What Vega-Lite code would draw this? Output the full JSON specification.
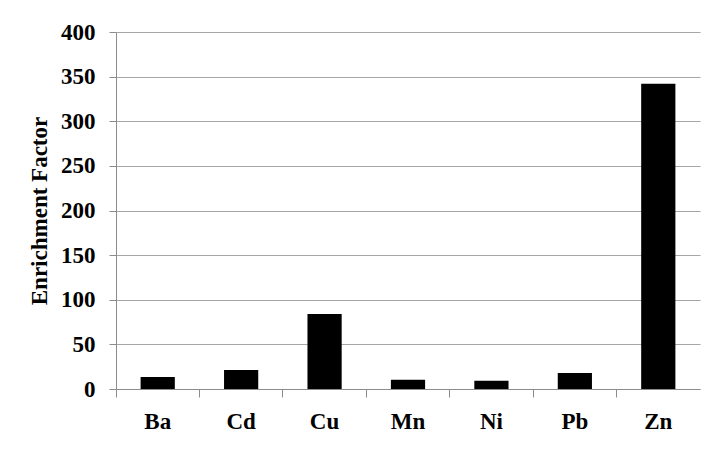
{
  "$schema": "https://vega.github.io/schema/vega-lite/v6.json",
  "width": 584,
  "height": 357,
  "autosize": "none",
  "padding": {"left": 116, "top": 32, "right": 20, "bottom": 63},
  "background": "white",
  "data": {
    "values": [
      {"element": "Ba", "ef": 13.5},
      {"element": "Cd", "ef": 21.3},
      {"element": "Cu", "ef": 84},
      {"element": "Mn", "ef": 10.4},
      {"element": "Ni", "ef": 9.3},
      {"element": "Pb", "ef": 17.9},
      {"element": "Zn", "ef": 342}
    ]
  },
  "config": {
    "view": {"stroke": null},
    "font": "Liberation Serif"
  },
  "mark": {"type": "bar", "color": "black", "width": {"band": 0.41}},
  "encoding": {
    "x": {
      "field": "element",
      "type": "nominal",
      "sort": null,
      "scale": {"paddingInner": 0, "paddingOuter": 0},
      "axis": {
        "title": null,
        "labelAngle": 0,
        "labelFont": "Liberation Serif",
        "labelFontWeight": "bold",
        "labelFontSize": 23,
        "labelColor": "black",
        "labelPadding": 13,
        "bandPosition": 0,
        "tickSize": 8,
        "tickColor": "#8c8c8c",
        "domainColor": "#8c8c8c",
        "grid": false
      }
    },
    "y": {
      "field": "ef",
      "type": "quantitative",
      "scale": {"domain": [0, 400], "nice": false},
      "axis": {
        "title": "Enrichment Factor",
        "titleFont": "Liberation Serif",
        "titleFontWeight": "bold",
        "titleFontSize": 23,
        "titleColor": "black",
        "titlePadding": 9,
        "values": [0, 50, 100, 150, 200, 250, 300, 350, 400],
        "labelFont": "Liberation Serif",
        "labelFontWeight": "bold",
        "labelFontSize": 23,
        "labelColor": "black",
        "labelPadding": 14,
        "tickSize": 7,
        "tickColor": "#8c8c8c",
        "domainColor": "#8c8c8c",
        "gridColor": "#a6a6a6",
        "gridOpacity": 1
      }
    }
  }
}
